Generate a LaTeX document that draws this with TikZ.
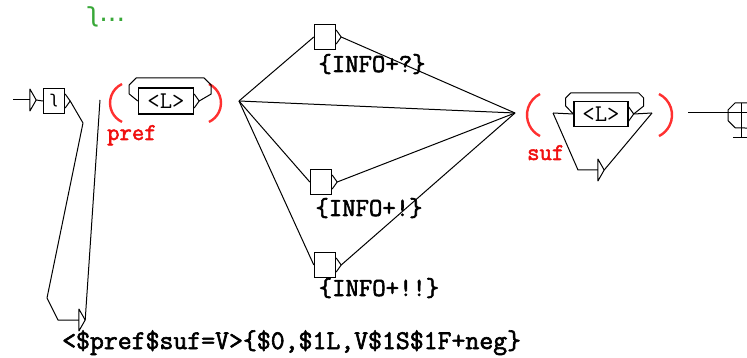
\documentclass[tikz,border=0pt]{standalone}
\usepackage{fontspec}
\newfontfamily\ipafont{DejaVu Sans}
\newfontfamily\unitexbold[FakeBold=2.2]{Latin Modern Mono}
\usetikzlibrary{positioning}
\definecolor{varred}{HTML}{F01010}
\definecolor{parenred}{HTML}{FF3030}
\definecolor{notegreen}{HTML}{38A838}

\begin{document}
\begin{tikzpicture}[
    x=1pt, y=-1pt,
    wire/.style     = {draw=black, line width=1pt, line join=round},
    wordbox/.style  = {
      rectangle, draw=black, line width=1.4pt, inner sep=0pt,
      minimum width=55pt, minimum height=26pt,
      font=\fontsize{24}{24}\selectfont\ttfamily
    },
    emptybox/.style = {
      rectangle, draw=black, line width=1.4pt, inner sep=0pt,
      minimum width=21pt, minimum height=25pt
    },
    entrymark/.style = {inner sep=0pt, minimum width=6pt, minimum height=22pt},
    paren/.style    = {draw=parenred, line width=2.4pt},
    varlbl/.style   = {font=\unitexbold\fontsize{24}{26}\selectfont, text=varred, inner sep=0pt},
    outlbl/.style   = {font=\unitexbold\fontsize{26}{28}\selectfont, inner sep=0pt}
  ]
  \fill[white] (0,0) rectangle (747,358);
  \useasboundingbox (0,0) rectangle (747,358);

  % Initial state and comment
  \coordinate (start) at (13,100);
  \node[entrymark] (initarr) at (33,100) {};
  \node[emptybox, font=\ipafont\fontsize{17}{17}\selectfont] (initbox) at (54,101) {ʅ};
  \node[text=notegreen, font=\ipafont\fontsize{27}{27}\selectfont, inner sep=0pt] (note) at (106,17) {ʅ...};

  % Output box — bottom left
  \node[entrymark] (outarr) at (82,320) {};
  \node[outlbl, font=\unitexbold\fontsize{27}{28}\selectfont, anchor=base west] (outtext) at (62,349)
    {<\$pref\$suf=V>\{\$0,\$1L,V\$1S\$1F+neg\}};

  % Variable pref
  \coordinate (prefin) at (100,100);
  \node[varlbl, anchor=base west] (prefname) at (107,140) {pref};
  \node[wordbox] (lpref) at (166,101) {<L>};
  \coordinate (prefout) at (239,101);

  % Alternatives — x=325
  \node[emptybox] (info1) at (325,37)  {};
  \node[emptybox] (info2) at (321,182) {};
  \node[emptybox] (info3) at (325,265) {};
  \node[outlbl, anchor=base] (info1lbl) at (372,72)  {\{INFO+?\}};
  \node[outlbl, anchor=base] (info2lbl) at (369,216) {\{INFO+!\}};
  \node[outlbl, anchor=base] (info3lbl) at (379,296) {\{INFO+!!\}};

  % Variable suf
  \coordinate (sufin) at (515,113);
  \node[varlbl, anchor=base west] (sufname) at (527,160) {suf};
  \coordinate (sufsplit) at (553,113);
  \node[wordbox, minimum width=54pt, minimum height=25pt] (lsuf) at (601,114) {<L>};
  \node[entrymark] (skiparr) at (601,170) {};
  \coordinate (sufjoin) at (652,113);
  \coordinate (sufout) at (688,113);

  % Final state
  \node[inner sep=0pt, minimum width=26pt, minimum height=25pt] (final) at (741,115.5) {};

  % Parentheses
  \draw[paren] (122,84) arc[start angle=115.4, end angle=244.6, radius=21pt];
  \draw[paren] (209,84) arc[start angle=64.6, end angle=-64.6, radius=21pt];
  \draw[paren] (540,94) arc[start angle=116.5, end angle=243.5, radius=23.5pt];
  \draw[paren] (659,94) arc[start angle=63.5, end angle=-63.5, radius=23.5pt];

  % Marks
  \foreach \b in {initbox,lpref,info1,info2,info3,lsuf}
    \draw[wire] (\b.east) ++(0,-7) -- ++(5,7) -- ++(-5,7);
  \foreach \a in {initarr,outarr,skiparr}
    \draw[wire] (\a.north west) -- (\a.south west)
                (\a.north west) -- (\a.east) -- (\a.south west);

  % Arrows
  \draw[wire] (start) -- (initarr.west);
  \draw[wire] (initarr.east) -- (initbox.west);
  \draw[wire] ([xshift=5pt]initbox.east) -- (83,123) -- (47,298) -- (58,320) -- (outarr.west);
  \draw[wire] (outarr.east) -- (prefin);
  \draw[wire] ([xshift=5pt]lpref.east) -- ++(12,-7) -- ++(0,-9) -- ++(-7,-7)
              -- ++(-68,0) -- ++(-7,7) -- ++(0,9) -- (lpref.west);
  \foreach \b in {info1,info2,info3} {
    \draw[wire] (prefout) -- (\b.west);
    \draw[wire] ([xshift=5pt]\b.east) -- (sufin);
  }
  \draw[wire] (prefout) -- (sufin);
  \draw[wire] (sufsplit) -- (lsuf.west);
  \draw[wire] ([xshift=5pt]lsuf.east) -- (sufjoin);
  \draw[wire] ([xshift=5pt]lsuf.east) -- ++(10,-8) -- ++(0,-8) -- ++(-5,-5)
              -- ++(-68,0) -- ++(-5,5) -- ++(0,8) -- (lsuf.west);
  \draw[wire] (sufsplit) -- (578,170) -- (skiparr.west);
  \draw[wire] (skiparr.east) -- (sufjoin);
  \draw[wire] (sufout) -- (sufout -| final.east);
  \draw[wire] (final.north east) -- ++(-19,0) -- ++(-7,7) -- ++(0,11) -- ++(7,7) -- (final.south east);
  \draw[wire] (final.north) -- ++(0,35) ++(-8,0) -- ++(16,0);
\end{tikzpicture}
\end{document}
